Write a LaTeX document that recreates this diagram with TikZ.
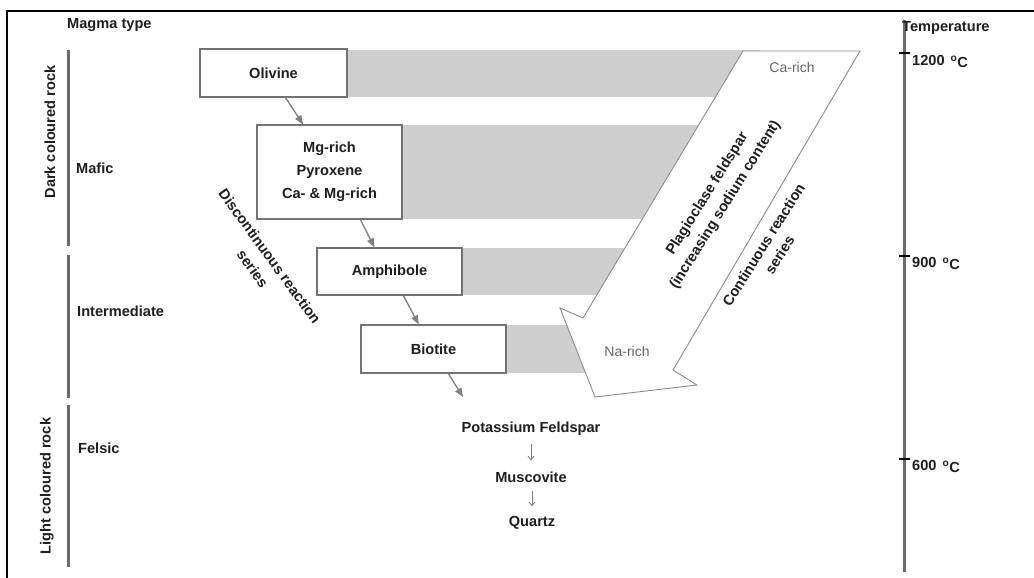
\documentclass[tikz,border=0pt]{standalone}
\usepackage{fontspec}
\setmainfont{Liberation Sans}
\usetikzlibrary{arrows.meta,calc}
\begin{document}
\begin{tikzpicture}[x=1pt,y=-1pt,
  lbl/.style={font=\fontsize{14.6}{17}\selectfont\bfseries, text=black!88, inner sep=0pt},
  thin/.style={font=\fontsize{14}{17}\selectfont, text=black!60, inner sep=0pt},
  mbox/.style={draw=black!55, line width=1.2pt, fill=white, inner sep=0pt,
     font=\fontsize{14.6}{23}\selectfont\bfseries, text=black!88, align=center},
  band/.style={fill=black!19},
  axis/.style={draw=black!58, line width=3pt},
  tick/.style={draw=black, line width=1.4pt},
  flow/.style={draw=black!50, line width=1.3pt, -{Triangle[length=9pt,width=7pt]}},
  small/.style={draw=black!50, line width=0.9pt, -{Straight Barb[length=3.5pt,width=6pt]}}
]
\useasboundingbox (0,0) rectangle (1034,578);
\fill[white] (0,0) rectangle (1034,578);
% frame
\draw[line width=2pt] (7,578) -- (7,11) -- (1034,11);

% grey bands
\fill[band] (347,50) rectangle (760,97);
\fill[band] (402,125) rectangle (720,219);
\fill[band] (462,248) rectangle (660,295);
\fill[band] (506,325) rectangle (625,373);

% plagioclase arrow
\draw[draw=black!45, line width=0.9pt, fill=white, line join=miter]
  (743,51) -- (860,51) -- (673,370) -- (697,385) -- (595,397) -- (560,308) -- (583,318) -- cycle;
\node[thin] (ca) at (792,67) {Ca-rich};
\node[thin] (na) at (627,351) {Na-rich};
\node[lbl, rotate=58, align=center, font=\fontsize{14.6}{21}\selectfont\bfseries] (pl) at (716.5,199.5)
  {Plagioclase feldspar\\(increasing sodium content)};
\node[lbl, rotate=58, align=center, font=\fontsize{14.6}{19}\selectfont\bfseries] (cr) at (771.5,250)
  {Continuous reaction\\series};

% discontinuous series boxes
\node[mbox, minimum width=147pt, minimum height=48pt] (O) at (273.5,73) {Olivine};
\node[mbox, minimum width=145pt, minimum height=94pt] (P) at (329.5,172) {Mg-rich\\Pyroxene\\Ca- \& Mg-rich};
\node[mbox, minimum width=145pt, minimum height=47pt] (A) at (389.5,271.5) {Amphibole};
\node[mbox, minimum width=145pt, minimum height=48pt] (B) at (433.5,349) {Biotite};

\node[lbl] (K) at (531,429) {Potassium Feldspar};
\node[lbl] (M) at (531,477) {Muscovite};
\node[lbl] (Q) at (532,523) {Quartz};
\coordinate (kend) at (463,397);

\draw[flow] (O.-64) -- (P.119);
\draw[flow] (P.-57) -- (A.122);
\draw[flow] (A.-60) -- (B.121);
\draw[flow] (B.-59) -- (kend);
\draw[small, shorten <=8pt, shorten >=11pt] (K.south -| M.north) -- (M.north);
\draw[small, shorten <=8pt, shorten >=10pt] (M.south -| Q.north) -- (Q.north);

\node[lbl, rotate=-54, align=center, font=\fontsize{14.6}{21}\selectfont\bfseries] (dr) at (261.3,262.4)
  {Discontinuous reaction\\series};

% magma type column
\node[lbl, anchor=west] (mt) at (67,25) {Magma type};
\draw[axis] (68,50) -- (68,246);
\draw[axis] (68,255) -- (68,398);
\draw[axis] (68,405) -- (68,567);
\node[lbl, rotate=90] (dark) at (50,132) {Dark coloured rock};
\node[lbl, rotate=90] (light) at (47,486) {Light coloured rock};
\node[lbl, anchor=west] (maf) at (76,168) {Mafic};
\node[lbl, anchor=west] (int) at (77,311) {Intermediate};
\node[lbl, anchor=west] (fel) at (78,448) {Felsic};

% temperature axis
\draw[axis] (904.5,20) -- (904.5,572);
\draw[tick] (899,53) -- (910,53);
\draw[tick] (899,256) -- (910,256);
\draw[tick] (899,459) -- (910,459);
\node[lbl, anchor=west] (temp) at (902,28) {Temperature};
\node[lbl, anchor=west] (t1) at (912,61) {1200\hspace{6pt}\raisebox{-2pt}{\textsuperscript{o}C}};
\node[lbl, anchor=west] (t2) at (912,263) {900\hspace{6pt}\raisebox{-2pt}{\textsuperscript{o}C}};
\node[lbl, anchor=west] (t3) at (912,466) {600\hspace{6pt}\raisebox{-2pt}{\textsuperscript{o}C}};
\end{tikzpicture}
\end{document}
